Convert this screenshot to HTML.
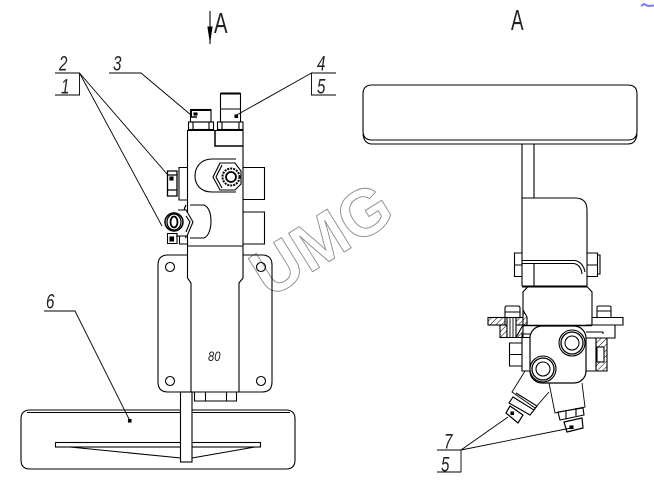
<!DOCTYPE html>
<html><head><meta charset="utf-8"><style>
html,body{margin:0;padding:0;background:#fff;width:654px;height:487px;overflow:hidden}
svg{display:block}
text{font-family:"Liberation Sans",sans-serif;fill:#222}
</style></head><body>
<svg width="654" height="487" viewBox="0 0 654 487" xmlns="http://www.w3.org/2000/svg">
<defs><pattern id="h" width="4" height="4" patternUnits="userSpaceOnUse" patternTransform="rotate(45)"><rect width="4" height="4" fill="#fff"/><line x1="0" y1="0" x2="0" y2="4" stroke="#000" stroke-width="1"/></pattern></defs>
<rect width="654" height="487" fill="#fff"/>
<!-- watermark -->
<g transform="translate(269,299) rotate(-32)"><text x="0" y="0" font-size="66" font-weight="bold" style="fill:#fff;stroke:#8a8a8a;stroke-width:.9" textLength="152" lengthAdjust="spacingAndGlyphs">UMG</text></g>
<path d="M641 6 L644 4 L648 6 L654 5.5" stroke="#7a7aff" stroke-width="2" fill="none"/>

<g fill="none" stroke="#000" stroke-width="1.1">
<!-- LEFT VIEW -->
<path d="M210 11V44" />
<path d="M208 27H212L210 40Z" fill="#000"/>
<!-- leaders -->
<path d="M55 73H79.5V95H55M79.5 73L167 174M79.5 73L162 226" stroke-width=".9"/>
<path d="M109 73H141L191 115" stroke-width=".9"/>
<path d="M336 73H311.5V95H336M311.5 73L235 116" stroke-width=".9"/>
<rect x="194" y="113" width="3" height="2" fill="#000"/><rect x="235" y="115" width="2.500" height="2.500" fill="#000"/>
<!-- top fittings -->
<rect x="190.500" y="109.500" width="20.500" height="12.500"/><path d="M191 110.500V117.500M191 110H211" stroke-width="2"/><path d="M191 117H197" stroke-width="1.500"/>
<rect x="188.500" y="122" width="25" height="7.500"/><path d="M193 122V129.500M209 122V129.500"/>
<path d="M220.500 122V93.500H240.500V122M220.500 109H240.500" /><path d="M220.500 93.500H240.500" stroke-width="2"/>
<rect x="217.500" y="122" width="25.500" height="7.500"/><path d="M222 122V129.500M239 122V129.500"/>
<!-- main block -->
<path d="M187.500 130.500H243V278L239 283V392H191V283L187.500 278Z" fill="#fff"/>
<path d="M215 130.500V146H243" stroke-width="1.500"/>
<path d="M187.500 246H243"/>
<!-- side boxes -->
<path d="M243 167.500H264.500V199.500H243M243 212H264.500V244H243"/>
<path d="M187.500 167.500H179V200H187.500M187.500 236H179.500V244H187.500"/>
<path d="M177 171H167.500V196H177ZM167.500 175H177M167.500 190H177" stroke-width="1.300"/>
<rect x="170" y="177" width="3" height="3" fill="#000"/>
<!-- upper port -->
<path d="M236 159H212C200 159 195 168 195 176C195 184 200 192 212 192H236" fill="#fff"/>
<path d="M220 163H235L241 171V184L235 190H220L213 177Z" fill="#fff"/>
<circle cx="231" cy="177" r="8.500" stroke-width="2" stroke-dasharray="2 1"/>
<circle cx="231" cy="177" r="5" stroke-width="1.800"/>
<path d="M222 165L216 177L222 188"/>
<!-- lower port -->
<path d="M190 205H204C209 207 211 214 211 221C211 228 209 236 204 238H190" fill="#fff"/>
<path d="M186 205C182 211 184 232 186 238" stroke-width="1.200"/>
<path d="M178 210H186L193 222L187 236H176" fill="#fff"/>
<path d="M186 216L190 222L186 232"/>
<circle cx="174" cy="222" r="9" stroke-width="1.500" fill="#fff"/>
<ellipse cx="174" cy="222" rx="7" ry="8" stroke-width="1.300"/>
<ellipse cx="174" cy="222" rx="3.500" ry="5.500" stroke-width="1.800"/>
<path d="M167.500 233.500H177V243.500H167.500Z"/>
<rect x="170" y="237" width="3.500" height="4" fill="#000"/>
<!-- plate -->
<path d="M187.500 255H168Q158 255 158 265V382Q158 392 168 392H191M239 392H262Q272 392 272 382V265Q272 255 262 255H243"/>
<circle cx="170" cy="267" r="4.500"/><circle cx="261" cy="267" r="4.500"/><circle cx="170" cy="381" r="4.500"/><circle cx="261" cy="381" r="4.500"/>
<path d="M194.500 392V401H236.500V392M205.500 392V401M226.500 392V401"/>
<!-- bottom plate -->
<path d="M30 410H286Q295 410 295 419V460Q295 469 286 469H30Q21 469 21 460V419Q21 410 30 410Z" fill="#fff"/>
<path d="M27 412.500H290"/>
<rect x="55.500" y="442.500" width="205" height="4.500"/>
<path d="M70 447L181 458M192 458L255 447"/>
<rect x="180.500" y="392" width="11.500" height="70" fill="#fff"/>
<!-- leader 6 drawn over the plate -->
<path d="M44 311H75L130 421" stroke-width=".9"/>
<rect x="128.500" y="419.500" width="2.500" height="2.500" fill="#000"/>

<!-- RIGHT VIEW -->
<path d="M372 85H628Q637 85 637 94V131Q637 140 628 140H372Q363 140 363 131V94Q363 85 372 85Z"/>
<path d="M363 134Q364 144 372 144H628Q636 144 637 134"/>
<path d="M522 144V198M534 144V198"/>
<path d="M522 198H575Q587 198 587 210V286M522 198V286"/>
<!-- bolts at bracket -->
<path d="M522 253H514.500V276.500H522M514.500 265H522"/>
<path d="M587 253H597.500V276.500H587M587 265H598M597.500 255H600V274H597.500"/>
<path d="M522 260.500H575Q583 262 585 272M522 263.500H574Q581 265 582 274"/>
<path d="M534 263.500V286"/>
<path d="M522 286.500H587" stroke-width="2"/>
<!-- upper body -->
<path d="M523 325V292L528 286.500M592 325V292L587 286.500"/>
<path d="M523 325.500H592" stroke-width="1.500"/>
<!-- flange -->
<rect x="488" y="317.500" width="17" height="7.500" fill="url(#h)"/>
<rect x="516" y="317.500" width="11" height="7.500" fill="url(#h)"/>
<rect x="500" y="325" width="7" height="12.500" fill="url(#h)"/>
<path d="M516 325H527V317L523 310V325L516 337.500H523V325" fill="url(#h)"/>
<path d="M500 337.500H530"/>
<path d="M507 317.500H516V337.500H507Z" fill="#fff"/><path d="M510 318V337M513 318V337" stroke-width=".9"/>
<path d="M505 317.500V308Q505 306 507 306H518Q520 306 520 308V317.500H505M505 312H520"/>
<path d="M592 317.500H623V325H592Z" fill="#fff"/>
<path d="M597 317.500V307Q597 306 599 306H609Q611 306 611 307V317.500M597 311H611"/>
<path d="M586 325H615V338H586M586 332H603V334"/>
<!-- right section -->
<path d="M596 338H607V371H596Z" fill="url(#h)"/>
<rect x="597" y="347" width="7" height="15" fill="#fff"/>
<path d="M586 338H596M586 371H596M596 338V371" />
<!-- left plate & nut -->
<path d="M530 334H522V371H530"/>
<path d="M522 343H509.500V366H522M509.500 354.500H522"/>
<!-- main body -->
<rect x="530" y="326" width="56" height="57" rx="12" fill="#fff" stroke-width="1.200"/>
<circle cx="572" cy="343" r="13"/><circle cx="572" cy="343" r="11" stroke-width="1.300"/><circle cx="572" cy="343" r="7"/>
<circle cx="543" cy="369" r="13" fill="#fff"/><circle cx="543" cy="369" r="11" stroke-width="1.300"/><circle cx="543" cy="369" r="7"/>
<!-- angled fitting left -->
<path d="M525 371L512 392L535 408L549 392" stroke-width=".9"/>
<path d="M513 397L534 410L530 415L509 403Z"/><path d="M516 393L537 406L534 410"/>
<path d="M510 406L523 415L518 423L506 413Z" stroke-width="1.200"/>
<rect x="511" y="412" width="2.500" height="2.500" fill="#000"/>
<!-- right fitting -->
<path d="M549 383L555 413L585 407L582 383" stroke-width=".9"/>
<path d="M558 412L583 408L584 415L560 420Z"/><path d="M566 410V419M576 408V416"/>
<path d="M564 422L582 418L583 428L567 432Z" stroke-width="1.200"/>
<rect x="570" y="426" width="3" height="2.500" fill="#000"/>
<!-- leaders -->
<path d="M437 450H461V472H437M461 450L508 417M461 450L571 428" stroke-width=".9"/>
</g>

<!-- labels -->
<g font-style="italic" font-size="21">
<text transform="translate(59,70.500) scale(.72,1)">2</text>
<text transform="translate(61,93.500) scale(.72,1)">1</text>
<text transform="translate(113,70.500) scale(.72,1)">3</text>
<text transform="translate(317,70.500) scale(.72,1)">4</text>
<text transform="translate(317,93.500) scale(.72,1)">5</text>
<text transform="translate(46,308.500) scale(.72,1)">6</text>
<text transform="translate(444,448.500) scale(.72,1)">7</text>
<text transform="translate(441,471.500) scale(.72,1)">5</text>
<text transform="translate(208,361) scale(.8,1)" font-size="14">80</text>
</g>
<text transform="translate(214,33) scale(.7,1)" font-size="29">A</text>
<text transform="translate(511,30) scale(.65,1)" font-size="29">A</text>
</svg>
</body></html>
